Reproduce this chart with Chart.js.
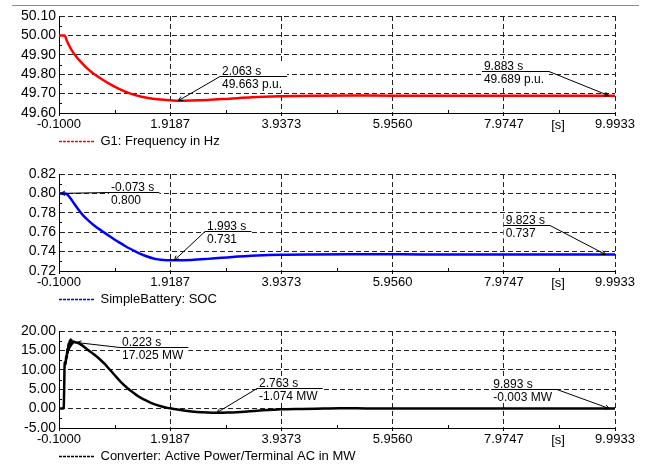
<!DOCTYPE html>
<html><head><meta charset="utf-8">
<script src="https://cdn.jsdelivr.net/npm/chart.js@4.4.0/dist/chart.umd.min.js"></script>
<style>
html,body{margin:0;padding:0;background:#fff;overflow:hidden;width:653px;height:464px;}
.topline{position:absolute;left:12px;top:5px;width:627px;height:1px;background:#8c8c8c;}
.box{position:absolute;left:0;width:653px;height:158px;}
</style></head><body>
<div class="topline"></div>
<div class="box" style="top:0"><canvas id="c1"></canvas></div>
<div class="box" style="top:158px"><canvas id="c2"></canvas></div>
<div class="box" style="top:315px"><canvas id="c3"></canvas></div>
<script>
// ---- data ----
const timeTicks = [-0.1, 1.9187, 3.9373, 5.9560, 7.9747, 9.9933];
const timeTickLabels = ['-0.1000', '1.9187', '3.9373', '5.9560', '7.9747', '9.9933'];

const freqTicks = [49.6, 49.7, 49.8, 49.9, 50.0, 50.1];
const freqTickLabels = ['49.60', '49.70', '49.80', '49.90', '50.00', '50.10'];
const socTicks = [0.72, 0.74, 0.76, 0.78, 0.80, 0.82];
const socTickLabels = ['0.72', '0.74', '0.76', '0.78', '0.80', '0.82'];
const powerTicks = [-5, 0, 5, 10, 15, 20];
const powerTickLabels = ['-5.00', '0.00', '5.00', '10.00', '15.00', '20.00'];

const freqTime = [-0.1, -0.02, 0, 0.05, 0.1, 0.15, 0.2, 0.3, 0.4, 0.5, 0.55, 0.7, 0.85, 1.0, 1.185, 1.4, 1.6, 1.8, 2.063, 2.3, 2.6, 3.0, 3.4, 3.9, 4.5, 5.5, 6.5, 7.5, 8.5, 9.5, 9.9933];
const freqValues = [50.000, 50.000, 50.000, 49.967, 49.939, 49.915, 49.895, 49.862, 49.833, 49.809, 49.798, 49.770, 49.745, 49.723, 49.701, 49.684, 49.674, 49.668, 49.663, 49.664, 49.667, 49.674, 49.681, 49.686, 49.689, 49.690, 49.689, 49.689, 49.689, 49.689, 49.689];

const socTime = [-0.1, 0, 0.05, 0.1, 0.15, 0.2, 0.276, 0.35, 0.45, 0.55, 0.65, 0.7, 0.8, 0.9, 1.0, 1.1, 1.2, 1.276, 1.4, 1.5, 1.6, 1.7, 1.8, 1.9, 1.993, 2.3, 2.6, 3.0, 3.5, 3.937, 4.5, 5.5, 6.5, 7.5, 8.5, 9.5, 9.9933];
const socValues = [0.800, 0.800, 0.7988, 0.7955, 0.7915, 0.7875, 0.7815, 0.7765, 0.7712, 0.7665, 0.7624, 0.7605, 0.7566, 0.7528, 0.7492, 0.7458, 0.7427, 0.7405, 0.7371, 0.7349, 0.7332, 0.7320, 0.7313, 0.7310, 0.7310, 0.7314, 0.7325, 0.7343, 0.7360, 0.7368, 0.7371, 0.7372, 0.7371, 0.7370, 0.7370, 0.7370, 0.7370];

const powerTime = [-0.1, -0.03, -0.015, -0.005, 0.0, 0.01, 0.02, 0.03, 0.04, 0.05, 0.06, 0.07, 0.08, 0.09, 0.10, 0.11, 0.12, 0.13, 0.14, 0.16, 0.19, 0.223, 0.3, 0.427, 0.55, 0.65, 0.73, 0.8, 0.9, 1.034, 1.15, 1.25, 1.337, 1.45, 1.55, 1.64, 1.75, 1.85, 1.94, 2.05, 2.2, 2.4, 2.6, 2.763, 2.95, 3.2, 3.5, 3.93, 4.3, 4.7, 5.0, 5.3, 5.6, 6.0, 7.0, 8.0, 9.0, 9.893, 9.9933];
const powerValues = [0, 0, 0.2, 6.0, 10.5, 12.0, 11.4, 13.6, 12.8, 15.4, 14.3, 16.7, 15.1, 17.4, 15.8, 17.8, 16.3, 17.6, 16.7, 17.3, 17.1, 17.025, 16.5, 15.1, 13.8, 12.6, 11.5, 10.4, 8.8, 6.7, 5.2, 4.1, 3.2, 2.3, 1.6, 1.1, 0.6, 0.25, 0.0, -0.25, -0.55, -0.85, -1.02, -1.074, -1.03, -0.85, -0.55, -0.18, -0.08, 0.0, 0.06, 0.08, 0.03, 0.0, -0.003, -0.003, -0.003, -0.003, -0.003];

const freqMarkTime = [2.063, 9.883];
const freqMarkValue = [49.663, 49.689];
const socMarkTime = [-0.073, 1.993, 9.823];
const socMarkValue = [0.800, 0.731, 0.737];
const powerMarkTime = [0.223, 2.763, 9.893];
const powerMarkValue = [17.025, -1.074, -0.003];

// ---- styling / rendering ----
const FONT = "'Liberation Sans', Arial, Helvetica, sans-serif";
Chart.defaults.font.family = FONT;
Chart.defaults.color = '#000';

const decorPlugin = {
  id: 'decor',
  afterLayout(chart, args, opts) {
    if (chart.legend) { chart.legend.left = opts.legendLeft; }
  },
  afterDatasetsDraw(chart, args, opts) {
    const {ctx, chartArea: a} = chart;
    const x = chart.scales.x, y = chart.scales.y;
    ctx.save();
    ctx.strokeStyle = '#000';
    ctx.lineWidth = 1;
    ctx.setLineDash([]);
    ctx.beginPath();
    for (let i = 0; i < opts.xMajor.length - 1; i++) {
      const px = Math.round(x.getPixelForValue((opts.xMajor[i] + opts.xMajor[i + 1]) / 2)) + 0.5;
      ctx.moveTo(px, a.bottom); ctx.lineTo(px, a.bottom - 3);
    }
    for (let i = 0; i < opts.yMajor.length - 1; i++) {
      const py = Math.round(y.getPixelForValue((opts.yMajor[i] + opts.yMajor[i + 1]) / 2)) + 0.5;
      ctx.moveTo(a.left, py); ctx.lineTo(a.left + 3, py);
    }
    ctx.stroke();
    ctx.fillStyle = '#000';
    ctx.font = '13px ' + FONT;
    ctx.textAlign = 'center';
    ctx.textBaseline = 'middle';
    ctx.fillText('[s]', a.right - 57, a.bottom + 12);

    ctx.font = '12px ' + FONT;
    ctx.textAlign = 'left';
    ctx.textBaseline = 'alphabetic';
    opts.marks.forEach(m => {
      const px = x.getPixelForValue(m.t), py = y.getPixelForValue(m.v);
      const ex = Math.round(px + m.dx), ey = Math.round(py + m.dy);
      const w = Math.max(ctx.measureText(m.l1).width, ctx.measureText(m.l2).width) + 7;
      const x0 = m.side === 'right' ? ex : ex - w;
      ctx.fillStyle = '#fff';
      ctx.fillRect(x0, ey - 12, w, 26);
      ctx.beginPath();
      ctx.moveTo(px, py); ctx.lineTo(ex, ey + 0.5);
      ctx.moveTo(x0, ey + 0.5); ctx.lineTo(x0 + w, ey + 0.5);
      const ang = Math.atan2(ey - py, ex - px);
      for (const s of [-0.45, 0.45]) {
        ctx.moveTo(px, py);
        ctx.lineTo(px + 5 * Math.cos(ang + s), py + 5 * Math.sin(ang + s));
      }
      ctx.stroke();
      ctx.fillStyle = '#000';
      ctx.fillText(m.l1, x0 + 2, ey - 1.5);
      ctx.fillText(m.l2, x0 + 2, ey + 11.5);
    });
    ctx.restore();
  }
};

function makeChart(id, time, values, color, label, yTicks, yLabels, marks) {
  const data = time.map((t, i) => ({x: t, y: values[i]}));
  return new Chart(document.getElementById(id), {
    type: 'line',
    data: {datasets: [{
      label, data, borderColor: color, backgroundColor: color,
      borderWidth: 2.5, pointRadius: 0, fill: false,
      cubicInterpolationMode: 'monotone'
    }]},
    options: {
      responsive: true, maintainAspectRatio: false, animation: false, events: [],
      layout: {padding: {left: 0, right: 38, top: 16, bottom: 0}},
      scales: {
        x: {
          type: 'linear', min: timeTicks[0], max: timeTicks[timeTicks.length - 1],
          afterBuildTicks: s => { s.ticks = timeTicks.map(v => ({value: v})); },
          afterFit: s => { s.height = 20; },
          ticks: {
            autoSkip: false, maxRotation: 0, minRotation: 0, padding: 1,
            font: {size: 13}, color: '#000',
            callback: (v, i) => timeTickLabels[i]
          },
          grid: {color: '#222', lineWidth: 1, drawTicks: true, tickLength: 3, tickColor: '#000'},
          border: {display: true, color: '#000', width: 1, dash: [5, 3]}
        },
        y: {
          type: 'linear', min: yTicks[0], max: yTicks[yTicks.length - 1],
          afterBuildTicks: s => { s.ticks = yTicks.map(v => ({value: v})); },
          afterFit: s => { s.width = 59; },
          ticks: {autoSkip: false, padding: 3, font: {size: 14}, color: '#000', callback: (v, i) => yLabels[i]},
          grid: {color: '#222', lineWidth: 1, drawTicks: false},
          border: {display: true, color: '#000', width: 1, dash: [5, 3]}
        }
      },
      plugins: {
        tooltip: {enabled: false},
        legend: {
          display: true, position: 'bottom', align: 'start',
          labels: {
            usePointStyle: true, pointStyle: 'line', pointStyleWidth: 35, padding: 2,
            font: {size: 13}, color: '#000',
            generateLabels: ch => ch.data.datasets.map((ds, i) => ({
              text: ds.label, strokeStyle: ds.borderColor, fillStyle: ds.borderColor,
              lineWidth: 1.5, lineDash: [3, 1], pointStyle: 'line', datasetIndex: i, hidden: false
            }))
          }
        },
        decor: {xMajor: timeTicks, yMajor: yTicks, marks, legendLeft: 57}
      }
    },
    plugins: [decorPlugin]
  });
}

const freqOffsets = [{dx: 42, dy: -25, side: 'right'}, {dx: -60, dy: -25, side: 'left'}];
const socOffsets = [{dx: 49, dy: -1.5, side: 'right'}, {dx: 30.5, dy: -29, side: 'right'}, {dx: -55.5, dy: -29.3, side: 'left'}];
const powerOffsets = [{dx: 43, dy: 4.5, side: 'right'}, {dx: 40, dy: -25, side: 'right'}, {dx: -52.5, dy: -20, side: 'left'}];

const freqMarks = freqMarkTime.map((t, i) => Object.assign({t, v: freqMarkValue[i], l1: t.toFixed(3) + ' s', l2: freqMarkValue[i].toFixed(3) + ' p.u.'}, freqOffsets[i]));
const socMarks = socMarkTime.map((t, i) => Object.assign({t, v: socMarkValue[i], l1: t.toFixed(3) + ' s', l2: socMarkValue[i].toFixed(3)}, socOffsets[i]));
const powerMarks = powerMarkTime.map((t, i) => Object.assign({t, v: powerMarkValue[i], l1: t.toFixed(3) + ' s', l2: powerMarkValue[i].toFixed(3) + ' MW'}, powerOffsets[i]));

makeChart('c1', freqTime, freqValues, '#ff0000', 'G1: Frequency in Hz', freqTicks, freqTickLabels, freqMarks);
makeChart('c2', socTime, socValues, '#0000ff', 'SimpleBattery: SOC', socTicks, socTickLabels, socMarks);
makeChart('c3', powerTime, powerValues, '#000000', 'Converter: Active Power/Terminal AC in MW', powerTicks, powerTickLabels, powerMarks);
</script>
</body></html>
